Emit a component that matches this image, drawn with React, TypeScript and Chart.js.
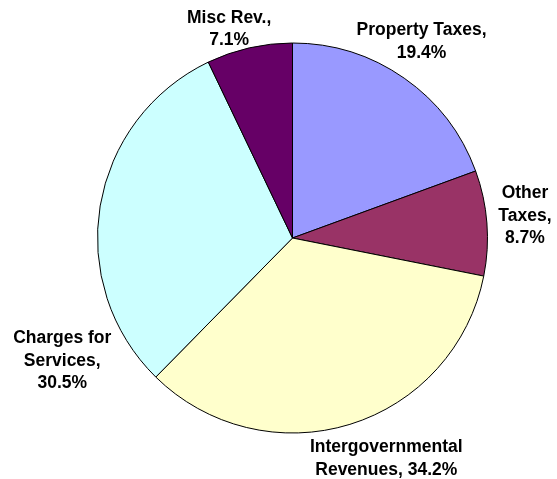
import React, { useEffect, useRef } from "react";
import { Chart, registerables } from "chart.js";

Chart.register(...registerables);

const categories = [
  "Property Taxes",
  "Other Taxes",
  "Intergovernmental Revenues",
  "Charges for Services",
  "Misc Rev.",
];
const shares = [19.4, 8.7, 34.2, 30.5, 7.1];
const labelLines = [
  ["Property Taxes,", "19.4%"],
  ["Other", "Taxes,", "8.7%"],
  ["Intergovernmental", "Revenues, 34.2%"],
  ["Charges for", "Services,", "30.5%"],
  ["Misc Rev.,", "7.1%"],
];
const sliceColors = ["#9999FF", "#993366", "#FFFFCC", "#CCFFFF", "#660066"];
// label placement: polar angle (deg clockwise from top) and distance from pie centre
const labelAngles = [33.3, 84.6, 157, 241.9, 343.1];
const labelDistances = [235, 233.5, 240, 261, 218];

const labelPlugin = {
  id: "outsideLabels",
  afterDatasetsDraw(chart: any) {
    const ctx = chart.ctx;
    const meta = chart.getDatasetMeta(0);
    ctx.save();
    ctx.font = "bold 17.5px 'Liberation Sans', Arial, sans-serif";
    ctx.fillStyle = "#000";
    ctx.textAlign = "center";
    ctx.textBaseline = "middle";
    const lh = 22.5;
    meta.data.forEach((arc: any, i: number) => {
      const a = (labelAngles[i] * Math.PI) / 180;
      const cx = arc.x + Math.sin(a) * labelDistances[i];
      const cy = arc.y - Math.cos(a) * labelDistances[i];
      const lines = labelLines[i];
      const startY = cy - ((lines.length - 1) * lh) / 2;
      lines.forEach((t, j) => ctx.fillText(t, cx, startY + j * lh));
    });
    ctx.restore();
  },
};

export default function App() {
  const ref = useRef<HTMLCanvasElement>(null);
  useEffect(() => {
    if (!ref.current) return;
    const chart = new Chart(ref.current, {
      type: "pie",
      data: {
        labels: categories,
        datasets: [
          {
            data: shares,
            backgroundColor: sliceColors,
            borderColor: "#000000",
            borderWidth: 1,
          },
        ],
      },
      options: {
        responsive: false,
        animation: false,
        radius: 195,
        layout: { padding: { left: 28, right: 0, top: 0, bottom: 3 } },
        plugins: {
          legend: { display: false },
          tooltip: { enabled: false },
        },
      } as any,
      plugins: [labelPlugin],
    });
    return () => chart.destroy();
  }, []);
  return (
    <div
      style={{
        position: "absolute",
        left: 0,
        top: 0,
        width: 557,
        height: 479,
        background: "#fff",
      }}
    >
      <canvas ref={ref} width={557} height={479} />
    </div>
  );
}
